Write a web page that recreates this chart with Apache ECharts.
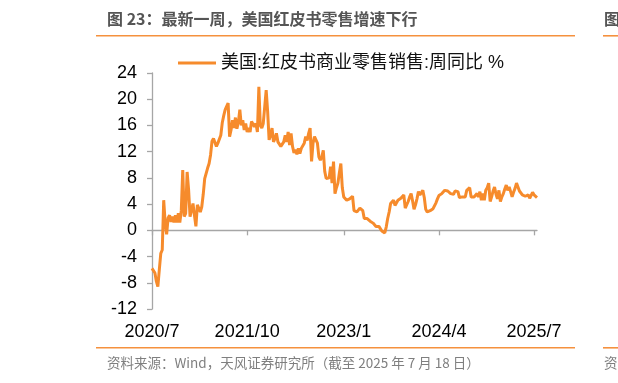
<!DOCTYPE html>
<html>
<head>
<meta charset="utf-8">
<script src="https://cdn.jsdelivr.net/npm/echarts@6/dist/echarts.min.js"></script>
<style>
html,body{margin:0;padding:0;background:#fff;}
#c{width:618px;height:383px;}
</style>
</head>
<body>
<div id="c"></div>
<script>
// ---- data ----
const titleText = '图 23：最新一周，美国红皮书零售增速下行';
const sourceText = '资料来源：Wind，天风证券研究所（截至 2025 年 7 月 18 日）';
const seriesName = '美国:红皮书商业零售销售:周同比 %';
const startDate = '2020-07-03';   // first weekly observation
const endDate = '2025-07-18';     // last weekly observation
const tickLabels = ['2020/7', '2021/10', '2023/1', '2024/4', '2025/7'];
const yTicks = [-12, -8, -4, 0, 4, 8, 12, 16, 20, 24];
const redbookYoY = [
-5.8,-5.5,-6.5,-7.8,-8.6,-6.0,-3.5,-3.0,4.6,1.1,
-0.6,1.9,2.3,1.3,2.1,1.2,2.3,1.2,2.6,1.2,
3.0,9.2,2.1,2.6,8.9,6.2,2.1,2.3,4.1,2.3,
0.6,3.9,3.9,2.8,3.6,5.5,7.9,
8.7,9.5,10.2,
11.5,13.6,14.0,14.2,12.8,13.3,13.0,14.5,16.4,17.5,
18.4,18.9,19.4,14.3,15.3,16.8,15.6,17.2,15.5,16.5,
18.4,16.0,16.8,15.3,16.3,15.0,15.6,15.0,16.6,16.9,
15.8,16.3,15.0,21.9,16.0,15.6,16.3,16.6,21.4,18.1,
13.8,14.5,15.6,13.5,14.0,14.8,13.5,13.2,12.8,12.5,
13.5,14.5,13.5,15.0,13.0,14.8,12.8,11.8,12.3,11.6,
12.5,11.7,12.5,12.2,13.3,14.3,13.7,14.8,15.6,10.5,
13.3,14.3,13.8,13.3,11.2,10.7,11.2,12.2,9.0,7.9,
8.2,8.0,9.7,7.2,10.5,5.6,6.5,7.2,8.8,10.2,
6.5,5.1,4.9,4.6,4.6,4.8,5.1,5.2,3.0,2.7,
2.8,2.6,3.4,3.5,3.0,1.8,1.6,1.8,1.6,1.4,
1.5,1.1,0.9,0.6,0.8,0.6,0.3,-0.1,-0.4,-0.4,
0.5,1.8,2.8,4.1,4.4,4.6,3.8,4.1,4.6,4.8,
4.9,5.2,5.4,3.4,3.6,4.4,5.1,5.6,4.5,3.2,
3.9,4.8,5.9,5.4,5.6,6.1,5.0,3.2,2.8,2.8,
3.0,2.9,3.3,3.6,4.2,4.8,5.3,5.5,5.6,5.9,
6.1,5.8,6.0,6.3,5.6,5.9,5.5,6.0,5.7,5.9,
5.0,4.9,5.1,4.9,5.1,6.1,6.4,6.5,5.1,4.9,
5.1,4.9,5.6,5.1,5.9,4.6,5.6,4.6,6.1,6.5,
7.2,4.4,5.1,6.0,6.6,5.5,4.8,6.1,4.4,5.1,
5.6,6.3,6.9,6.1,6.6,5.9,5.1,5.8,6.4,7.2,
6.6,6.0,6.1,5.4,5.6,5.2,4.9,5.4,4.9,5.1,
5.8,5.4,5.1,5.0
];

// ---- weekly date categories ----
const weeks = [];
{
  const d = new Date(startDate + 'T00:00:00Z');
  const e = new Date(endDate + 'T00:00:00Z');
  while (d <= e) {
    weeks.push(d.toISOString().slice(0, 10));
    d.setUTCDate(d.getUTCDate() + 7);
  }
}
const monthLabel = s => { const p = s.split('-'); return p[0] + '/' + (+p[1]); };
const tickIdx = tickLabels.map(t => weeks.findIndex(w => monthLabel(w) === t));
const showAt = (i) => tickIdx.indexOf(i) >= 0;

const ORANGE = '#F68B2C';
const AXIS = '#A6A6A6';
const NUMFONT = "'Liberation Sans', Arial, 'Noto Sans CJK SC', sans-serif";

const chart = echarts.init(document.getElementById('c'), null, {renderer: 'canvas'});
chart.setOption({
  animation: false,
  backgroundColor: '#fff',
  grid: {left: 152, right: 81, top: 73, bottom: 74, containLabel: false, outerBoundsMode: 'none'},
  legend: {
    show: true, left: 178, top: 54, padding: 0,
    itemWidth: 38, itemHeight: 14, itemGap: 10,
    icon: 'path://M0,6 L38,6 L38,8.8 L0,8.8 Z',
    textStyle: {fontSize: 18, color: '#111', fontFamily: NUMFONT},
    data: [{name: seriesName, itemStyle: {color: ORANGE}}]
  },
  xAxis: [
    {
      type: 'category', data: weeks, boundaryGap: false, position: 'bottom',
      axisLine: {show: false, onZero: false},
      axisTick: {show: false},
      splitLine: {show: false},
      axisLabel: {
        show: true, interval: (i) => showAt(i), margin: 14,
        formatter: v => monthLabel(v),
        fontSize: 18, color: '#000', fontFamily: NUMFONT
      }
    },
    {
      type: 'category', data: weeks, boundaryGap: false, position: 'bottom',
      axisLine: {show: true, onZero: true, lineStyle: {color: AXIS, width: 1.3}},
      axisTick: {show: true, interval: (i) => showAt(i), length: 5, inside: false, lineStyle: {color: AXIS, width: 1.3}},
      axisLabel: {show: false},
      splitLine: {show: false}
    }
  ],
  yAxis: {
    type: 'value', min: -12, max: 24, interval: 4,
    axisLine: {show: true, lineStyle: {color: AXIS, width: 1.3}},
    axisTick: {show: true, length: 5, lineStyle: {color: AXIS, width: 1.3}},
    splitLine: {show: false},
    axisLabel: {
      margin: 15, fontSize: 18, color: '#000', fontFamily: NUMFONT,
      formatter: v => (yTicks.indexOf(v) >= 0 ? String(v) : '')
    }
  },
  series: [{
    name: seriesName, type: 'line', xAxisIndex: 0, yAxisIndex: 0,
    data: redbookYoY, symbol: 'none', smooth: false,
    lineStyle: {color: ORANGE, width: 3}, itemStyle: {color: ORANGE}
  }],
  graphic: [
    {type: 'text', left: 107, top: 11, style: {text: titleText, font: "bold 16px 'Noto Sans CJK SC', sans-serif", fill: '#555'}},
    {type: 'rect', shape: {x: 96, y: 35, width: 479, height: 1.6}, style: {fill: '#F5913E'}},
    {type: 'rect', shape: {x: 603, y: 35, width: 15, height: 1.6}, style: {fill: '#F5913E'}},
    {type: 'text', left: 604, top: 11, style: {text: '图', font: "bold 16px 'Noto Sans CJK SC', sans-serif", fill: '#555'}},
    {type: 'rect', shape: {x: 96, y: 347, width: 479, height: 1.6}, style: {fill: '#F5913E'}},
    {type: 'rect', shape: {x: 603, y: 347, width: 15, height: 1.6}, style: {fill: '#F5913E'}},
    {type: 'text', left: 107, top: 356, style: {text: sourceText, font: "13.5px 'Noto Sans CJK SC', sans-serif", fill: '#7F7F7F'}},
    {type: 'text', left: 604, top: 356, style: {text: '资', font: "13.5px 'Noto Sans CJK SC', sans-serif", fill: '#7F7F7F'}}
  ]
});
</script>
</body>
</html>
